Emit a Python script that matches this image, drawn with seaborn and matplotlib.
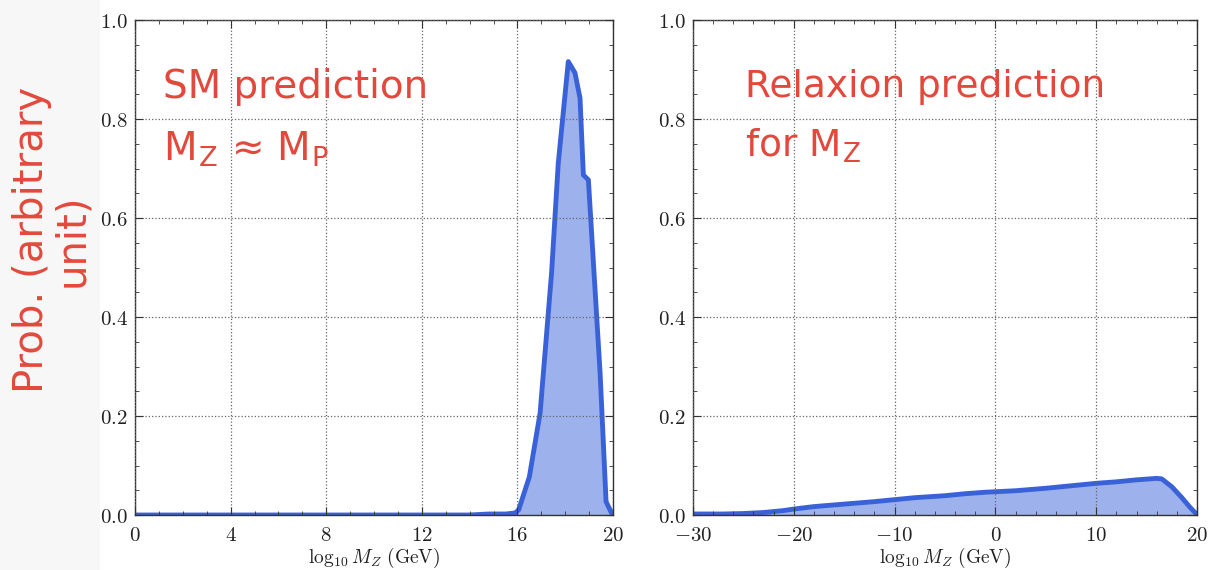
import matplotlib
matplotlib.use("Agg")
import matplotlib.pyplot as plt
from matplotlib.patches import Rectangle
from matplotlib.ticker import MultipleLocator, FuncFormatter
import seaborn as sns
import numpy as np
import pandas as pd

# SM prediction (left panel)
sm_x = [0, 2, 4, 6, 8, 10, 12, 14, 14.8, 15.5, 15.9, 16.05, 16.5, 16.95, 17.43, 17.71,
        18.13, 18.41, 18.62, 18.76, 18.97, 19.46, 19.71, 19.94]
sm_y = [0.0, 0.0, 0.0, 0.0, 0.0, 0.0, 0.0, 0.0, 0.002, 0.002, 0.004, 0.01, 0.077, 0.206,
        0.489, 0.711, 0.916, 0.893, 0.842, 0.687, 0.677, 0.287, 0.027, 0.004]

# relaxion prediction (right panel)
rx_x = [-30, -27, -25, -23, -21, -20, -18, -15, -12, -10, -8, -5, -3, -1, 0, 2, 5, 8,
        10, 12, 14, 16, 16.5, 17.5, 18.5, 19.2, 19.7, 20]
rx_y = [0.002, 0.002, 0.003, 0.005, 0.009, 0.012, 0.017, 0.022, 0.027, 0.031, 0.035,
        0.039, 0.043, 0.046, 0.047, 0.049, 0.054, 0.060, 0.064, 0.067, 0.071, 0.074,
        0.073, 0.057, 0.035, 0.018, 0.007, 0.002]

sm_xticks = [0, 4, 8, 12, 16, 20]
rx_xticks = [-30, -20, -10, 0, 10, 20]
yticks = [0.0, 0.2, 0.4, 0.6, 0.8, 1.0]

sns.set_style("ticks")
plt.rcParams["mathtext.fontset"] = "cm"

line_col = "#3a62d8"
red = "#e2493c"
hand = ["DejaVu Sans"]

fig = plt.figure(figsize=(12.09, 5.70), dpi=100)
fig.patches.append(Rectangle((0, 0), 100 / 1209, 1, transform=fig.transFigure,
                             facecolor="#f7f7f7", edgecolor="none", zorder=-10))
ax1 = fig.add_axes([135 / 1209, 1 - 515 / 570, 478 / 1209, 495 / 570])
ax2 = fig.add_axes([693 / 1209, 1 - 515 / 570, 504 / 1209, 495 / 570])

fmt_x = FuncFormatter(lambda v, p: f"${v:g}$")
fmt_y = FuncFormatter(lambda v, p: f"${v:.1f}$")

panels = [
    (ax1, sm_x, sm_y, sm_xticks, 1),
    (ax2, rx_x, rx_y, rx_xticks, 2),
]
for ax, xs, ys, xt, minor in panels:
    df = pd.DataFrame({"x": xs, "y": ys})
    ax.fill_between(df["x"], df["y"], 0, color="#9db2ec", zorder=1)
    sns.lineplot(data=df, x="x", y="y", ax=ax, color=line_col, lw=3.5, zorder=2)
    ax.set_xlim(xt[0], xt[-1])
    ax.set_ylim(0, 1)
    ax.set_xticks(xt)
    ax.set_yticks(yticks)
    ax.xaxis.set_minor_locator(MultipleLocator(minor))
    ax.yaxis.set_minor_locator(MultipleLocator(0.05))
    ax.xaxis.set_major_formatter(fmt_x)
    ax.yaxis.set_major_formatter(fmt_y)
    ax.tick_params(which="both", direction="in", top=True, right=True,
                   labelsize=15, colors="#333333", labelcolor="#222222")
    ax.tick_params(which="major", length=6)
    ax.tick_params(which="minor", length=3)
    ax.tick_params(axis="y", pad=5)
    ax.tick_params(axis="x", pad=7)
    for s in ax.spines.values():
        s.set_color("#333333")
        s.set_linewidth(1.0)
    ax.grid(True, which="major", ls=":", color="#666666", lw=0.9)
    ax.set_axisbelow(False)
    ax.set_xlabel(r"$\log_{10}M_Z\ (\mathrm{GeV})$", fontsize=14, labelpad=1,
                  color="#222222")
    ax.set_ylabel("")

ax1.text(0.059, 0.865, "SM prediction", transform=ax1.transAxes, color=red,
         fontsize=28, va="center", ha="left", family=hand)
ax1.text(0.059, 0.74, r"M$_\mathregular{Z}$ ≈ M$_\mathregular{P}$", transform=ax1.transAxes,
         color=red, fontsize=28, va="center", ha="left", family=hand)
ax2.text(0.103, 0.865, "Relaxion prediction", transform=ax2.transAxes, color=red,
         fontsize=27, va="center", ha="left", family=hand)
ax2.text(0.103, 0.745, r"for M$_\mathregular{Z}$", transform=ax2.transAxes,
         color=red, fontsize=27, va="center", ha="left", family=hand)

fig.text(52 / 1209, 1 - 240 / 570, "Prob. (arbitrary\nunit)", rotation=90,
         color=red, fontsize=29, ha="center", va="center", family=hand,
         linespacing=1.0)

fig.savefig("out.png", dpi=100)
